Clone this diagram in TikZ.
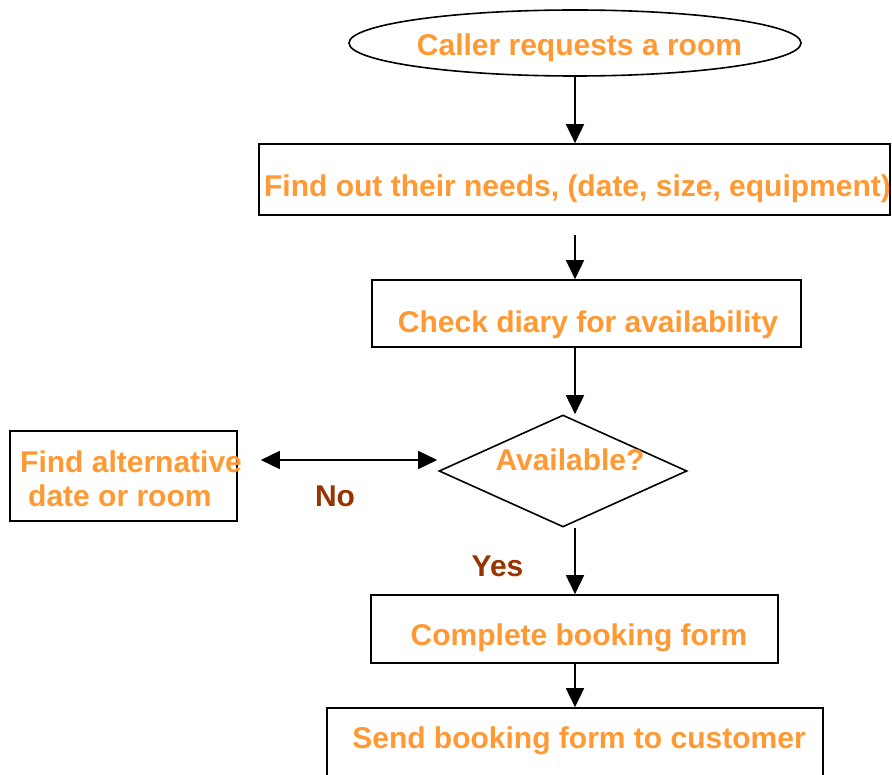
\documentclass[tikz,border=0pt]{standalone}
\usepackage{fontspec}
\setmainfont{Liberation Sans}
\usetikzlibrary{shapes.geometric,arrows.meta}
\definecolor{orng}{RGB}{255,153,51}
\definecolor{brwn}{RGB}{153,51,0}
\tikzset{
  every picture/.style={x=1pt,y=-1pt},
  lbl/.style={font=\bfseries\fontsize{30}{34}\selectfont, text=orng, inner sep=0pt, anchor=base},
  brlbl/.style={lbl, text=brwn},
  shp/.style={draw, line width=1.6pt, inner sep=0pt},
  boxshape/.style={shp, rectangle},
  arr/.style={line width=1.6pt, -{Triangle[length=19pt,width=18pt]}},
  darr/.style={line width=1.6pt, {Triangle[length=19pt,width=18pt]}-{Triangle[length=19pt,width=18pt]}}
}
\begin{document}
\begin{tikzpicture}
\clip (0,0) rectangle (892,775);
\fill[white] (0,0) rectangle (892,775);
\coordinate (ax) at (575,0);
% shapes
\node[shp, ellipse, minimum width=452pt, minimum height=66pt] (start) at (575,43) {};
\node[boxshape, minimum width=631pt, minimum height=71pt] (needs) at (574.5,179.5) {};
\node[boxshape, minimum width=429pt, minimum height=67pt] (check) at (586.5,313.5) {};
\node[shp, diamond, minimum width=248pt, minimum height=112pt] (avl) at (563,471) {};
\node[boxshape, minimum width=227pt, minimum height=90pt] (alt) at (123.5,476) {};
\node[boxshape, minimum width=407pt, minimum height=68pt] (form) at (574.5,629) {};
\node[boxshape, minimum width=496pt, minimum height=100pt] (send) at (575,758) {};
% texts
\node[lbl] (tstart) at (579.5,56) {Caller requests a room};
\node[lbl] (tneeds) at (577.5,197) {Find out their needs, (date, size, equipment)};
\node[lbl] (tcheck) at (588,333) {Check diary for availability};
\node[lbl] (tavl) at (570,471) {Available?};
\node[lbl, anchor=base west] (talta) at (20,472) {Find alternative};
\node[lbl, anchor=base west] (taltb) at (28,507) {date or room};
\node[lbl] (tform) at (579,645) {Complete booking form};
\node[lbl] (tsend) at (579,748) {Send booking form to customer};
\node[brlbl] (tno) at (335,507) {No};
\node[brlbl] (tyes) at (497.5,576) {Yes};
% connectors
\draw[arr] (start.south -| ax) -- (needs.north -| ax);
\draw[arr] ([yshift=-19pt]needs.south -| ax) -- (check.north -| ax);
\draw[arr] (check.south -| ax) -- (avl.north -| ax);
\draw[arr] (avl.south -| ax) -- (form.north -| ax);
\draw[arr] (form.south -| ax) -- (send.north -| ax);
\draw[darr] ([xshift=23pt,yshift=16pt]alt.east) -- ([xshift=-1pt,yshift=11pt]avl.west);
\end{tikzpicture}
\end{document}
